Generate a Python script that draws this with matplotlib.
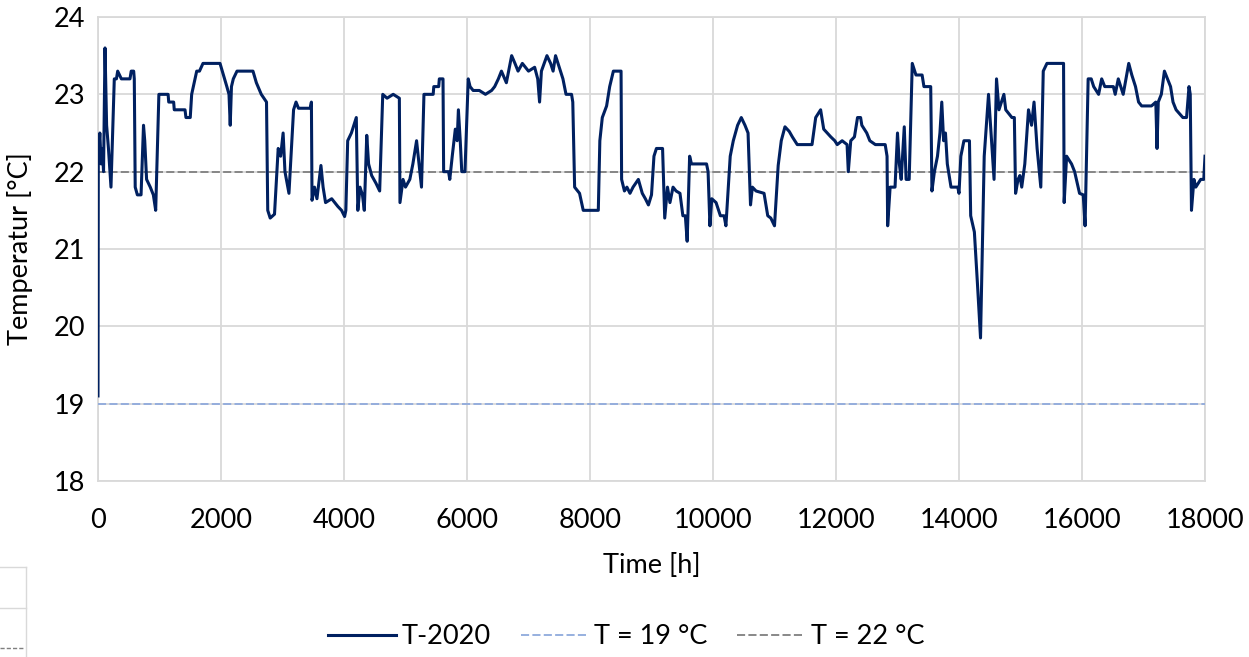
import matplotlib
matplotlib.use("Agg")
import matplotlib.pyplot as plt
from matplotlib.lines import Line2D

# ---- data ----
hours = [0, 5, 30, 50, 70, 90, 114, 140, 170, 211, 265, 300, 320, 380, 520, 540, 580, 590,
         605, 640, 700, 740, 760, 790, 850, 900, 938, 990, 1140, 1150, 1230, 1240, 1415, 1430,
         1500, 1523, 1605, 1650, 1707, 1984, 2040, 2095, 2130, 2150, 2170, 2200, 2260, 2520,
         2575, 2655, 2740, 2760, 2800, 2870, 2930, 2970, 3010, 3040, 3105, 3180, 3220, 3260,
         3450, 3470, 3480, 3520, 3560, 3625, 3660, 3700, 3800, 3900, 3960, 4010, 4030, 4060,
         4120, 4200, 4225, 4260, 4300, 4330, 4370, 4400, 4450, 4520, 4580, 4630, 4700, 4800,
         4900, 4910, 4960, 5000, 5070, 5120, 5180, 5220, 5260, 5300, 5450, 5460, 5540, 5550,
         5610, 5620, 5700, 5720, 5760, 5810, 5840, 5860, 5890, 5915, 5967, 6020, 6050, 6100,
         6200, 6300, 6400, 6450, 6510, 6560, 6640, 6726, 6780, 6830, 6900, 7000, 7100, 7150,
         7180, 7210, 7300, 7360, 7400, 7440, 7500, 7560, 7610, 7700, 7720, 7750, 7830, 7890,
         8135, 8160, 8200, 8270, 8320, 8380, 8505, 8514, 8560, 8600, 8650, 8700, 8786, 8850,
         8900, 8950, 9000, 9040, 9080, 9180, 9215, 9260, 9300, 9350, 9400, 9463, 9510, 9550,
         9580, 9620, 9650, 9895, 9920, 9950, 9980, 10050, 10120, 10180, 10210, 10280, 10330,
         10400, 10460, 10520, 10570, 10610, 10640, 10700, 10830, 10890, 10940, 11000, 11060,
         11110, 11170, 11240, 11290, 11370, 11610, 11670, 11750, 11800, 11915, 11980, 12020,
         12100, 12180, 12200, 12240, 12300, 12350, 12400, 12420, 12500, 12550, 12640, 12800,
         12830, 12840, 12880, 12960, 13000, 13030, 13060, 13110, 13140, 13190, 13240, 13300,
         13400, 13430, 13540, 13560, 13600, 13650, 13690, 13720, 13750, 13780, 13810, 13870,
         13980, 14000, 14030, 14080, 14170, 14190, 14250, 14300, 14350, 14410, 14480, 14570,
         14610, 14650, 14730, 14760, 14860, 14900, 14920, 14960, 14990, 15020, 15070, 15130,
         15180, 15220, 15270, 15330, 15370, 15430, 15700, 15710, 15750, 15830, 15880, 15960,
         16020, 16050, 16100, 16150, 16190, 16270, 16320, 16370, 16510, 16540, 16590, 16670,
         16760, 16810, 16870, 16920, 16970, 17130, 17200, 17220, 17240, 17290, 17340, 17390,
         17440, 17480, 17530, 17640, 17700, 17740, 17760, 17780, 17820, 17850, 17930, 17980,
         18000]
temp_2020 = [19.1, 22.2, 22.5, 22.1, 22.3, 22.0, 23.6, 22.6, 22.3, 21.8, 23.2, 23.2, 23.3, 23.2,
             23.2, 23.3, 23.3, 23.2, 21.8, 21.7, 21.7, 22.6, 22.4, 21.9, 21.8, 21.7, 21.5, 23.0,
             23.0, 22.9, 22.9, 22.8, 22.8, 22.7, 22.7, 23.0, 23.3, 23.3, 23.4, 23.4, 23.25, 23.1,
             23.0, 22.6, 23.1, 23.2, 23.3, 23.3, 23.15, 23.0, 22.9, 21.5, 21.4, 21.45, 22.3, 22.2,
             22.5, 22.0, 21.72, 22.8, 22.9, 22.82, 22.82, 22.9, 21.63, 21.8, 21.65, 22.08, 21.8,
             21.6, 21.65, 21.55, 21.5, 21.42, 21.5, 22.4, 22.5, 22.7, 21.5, 21.8, 21.7, 21.5,
             22.47, 22.1, 21.95, 21.85, 21.75, 23.0, 22.95, 23.0, 22.95, 21.6, 21.9, 21.8, 21.9,
             22.1, 22.4, 22.1, 21.8, 23.0, 23.0, 23.1, 23.1, 23.2, 23.2, 22.0, 22.0, 21.9, 22.2,
             22.55, 22.4, 22.8, 22.4, 22.0, 22.0, 23.2, 23.1, 23.05, 23.05, 23.0, 23.05, 23.1,
             23.2, 23.3, 23.15, 23.5, 23.4, 23.3, 23.4, 23.3, 23.35, 23.2, 22.9, 23.3, 23.5, 23.4,
             23.3, 23.5, 23.35, 23.2, 23.0, 23.0, 22.9, 21.8, 21.72, 21.5, 21.5, 22.4, 22.7,
             22.85, 23.1, 23.3, 23.3, 21.9, 21.75, 21.8, 21.72, 21.8, 21.9, 21.72, 21.65, 21.57,
             21.7, 22.2, 22.3, 22.3, 21.4, 21.8, 21.6, 21.8, 21.75, 21.72, 21.43, 21.43, 21.1,
             22.2, 22.1, 22.1, 22.0, 21.3, 21.65, 21.6, 21.43, 21.43, 21.3, 22.2, 22.4, 22.6,
             22.7, 22.6, 22.5, 21.57, 21.8, 21.75, 21.72, 21.43, 21.4, 21.3, 22.08, 22.4, 22.58,
             22.52, 22.45, 22.35, 22.35, 22.7, 22.8, 22.55, 22.45, 22.4, 22.35, 22.4, 22.35, 22.0,
             22.4, 22.45, 22.7, 22.7, 22.6, 22.5, 22.4, 22.35, 22.35, 22.2, 21.3, 21.8, 21.8,
             22.5, 22.1, 21.9, 22.58, 21.9, 21.9, 23.4, 23.25, 23.25, 23.1, 23.1, 21.75, 22.0,
             22.2, 22.5, 22.9, 22.4, 22.5, 22.1, 21.8, 21.8, 21.72, 22.2, 22.4, 22.4, 21.43,
             21.22, 20.55, 19.85, 22.2, 23.0, 21.9, 23.2, 22.8, 23.0, 22.8, 22.7, 22.7, 21.72,
             21.9, 21.95, 21.8, 22.1, 22.8, 22.6, 22.9, 22.3, 21.8, 23.3, 23.4, 23.4, 21.6, 22.2,
             22.1, 22.0, 21.72, 21.7, 21.3, 23.2, 23.2, 23.1, 23.0, 23.2, 23.1, 23.1, 23.0, 23.2,
             23.0, 23.4, 23.25, 23.1, 22.9, 22.85, 22.85, 22.9, 22.3, 22.9, 23.0, 23.3, 23.2,
             23.1, 22.9, 22.8, 22.7, 22.7, 23.1, 23.0, 21.5, 21.9, 21.8, 21.9, 21.9, 22.2]
limit_low = 19
limit_high = 22
x_ticks = [0, 2000, 4000, 6000, 8000, 10000, 12000, 14000, 16000, 18000]
y_ticks = [18, 19, 20, 21, 22, 23, 24]
labels = ["T-2020", "T = 19 °C", "T = 22 °C"]

plt.rcParams['font.family'] = ['Lato', 'DejaVu Sans']
FS = 19.5

fig = plt.figure(figsize=(12.49, 6.57), dpi=100)
ax = fig.add_axes([98 / 1249, 1 - 481 / 657, (1205 - 98) / 1249, (481 - 17) / 657])

grid_c = '#d9d9d9'
ax.plot(hours, temp_2020, color='#002060', lw=2.2, label=labels[0], zorder=4,
        solid_joinstyle='round')
ax.axhline(limit_low, color='#8faadc', lw=1.3, ls=(0, (4.5, 1.8)), label=labels[1], zorder=3)
ax.axhline(limit_high, color='#7f7f7f', lw=1.3, ls=(0, (4.5, 1.8)), label=labels[2], zorder=3)

ax.set_xlim(0, 18000)
ax.set_ylim(18, 24)
ax.set_xticks(x_ticks)
ax.set_yticks(y_ticks)
ax.grid(True, color=grid_c, lw=1.3, zorder=0)
ax.set_axisbelow(True)
for s in ax.spines.values():
    s.set_color(grid_c)
    s.set_linewidth(1.3)
ax.tick_params(length=0, labelsize=FS, colors='black')
ax.tick_params(axis='x', pad=19.5)
ax.tick_params(axis='y', pad=9)
ax.set_xlabel('Time [h]', fontsize=FS, labelpad=14)
ax.set_ylabel('Temperatur [°C]', fontsize=FS, labelpad=15)

fig.legend(loc='center left', bbox_to_anchor=(328 / 1249, 1 - 637 / 657), ncol=3,
           frameon=False, borderpad=0.0, borderaxespad=0.0,
           fontsize=FS, handlelength=2.5, handletextpad=0.22, columnspacing=1.1)

# small table fragment at the lower-left corner of the reference
W, H = 1249, 657
def fl(x0, y0, x1, y1, **kw):
    fig.add_artist(Line2D([x0 / W, x1 / W], [1 - y0 / H, 1 - y1 / H], **kw))
fl(0, 567, 26, 567, color=grid_c, lw=1.0)
fl(26, 567, 26, 657, color=grid_c, lw=1.0)
fl(0, 608, 26, 608, color=grid_c, lw=1.0)
fl(0, 648, 25, 648, color='#7f7f7f', lw=1.0, ls=(0, (3, 1.5)))

fig.savefig('out.png', dpi=100)
